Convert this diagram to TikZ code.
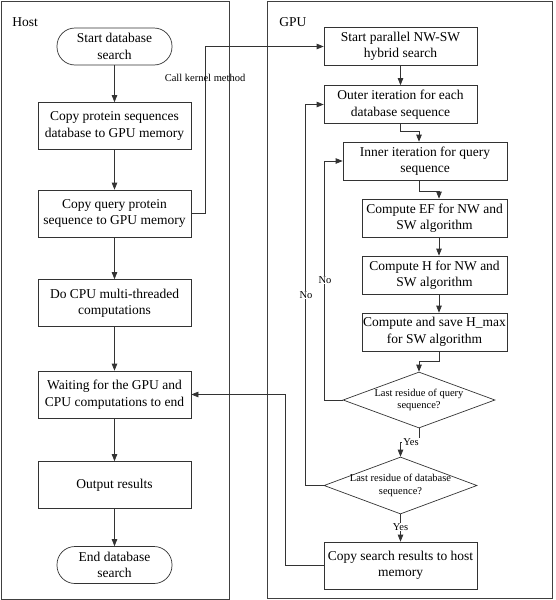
\documentclass[tikz,border=0pt]{standalone}
\usepackage{fontspec}
\setmainfont{Liberation Serif}
\usetikzlibrary{arrows.meta,shapes.geometric,calc}
\begin{document}
\begin{tikzpicture}[x=1pt,y=-1pt,
  line width=0.7pt, draw=black!80,
  box/.style={draw=black!80, rectangle, minimum width=153pt, minimum height=47pt, inner sep=0pt, align=center, font=\fontsize{13.5}{16.5}\selectfont},
  sbox/.style={box, minimum height=38pt},
  term/.style={box, minimum width=115pt, minimum height=37pt, rounded corners=18pt},
  dia/.style={draw=black!80, shape=diamond, inner sep=0pt, minimum width=152pt, minimum height=56pt},
  dtext/.style={align=center, inner sep=0pt, font=\fontsize{10.5}{12.7}\selectfont},
  lbl/.style={font=\fontsize{10.5}{12}\selectfont, inner sep=1pt},
  wlbl/.style={lbl, fill=white},
  arr/.style={draw=black!80, -{Triangle[length=7pt,width=5.5pt]}},
  panel/.style={draw=black!75, line width=0.9pt},
  title/.style={font=\fontsize{13.5}{16}\selectfont, anchor=west, inner sep=0pt}
]
\useasboundingbox (0,0) rectangle (555,600);
% panels
\draw[panel] (1,1) rectangle (229,599);
\draw[panel] (267,1) rectangle (552,598);
\node[title] (host) at (12,22) {Host};
\node[title] (gpu) at (279,22) {GPU};

% host column
\node[term] (s)  at (114.5,46.5) {Start database\\search};
\node[box]  (c1) at (114.5,126) {Copy protein sequences\\database to GPU memory};
\node[box]  (c2) at (114.5,213.5) {Copy query protein\\sequence to GPU memory};
\node[box]  (c3) at (114.5,303) {Do CPU multi-threaded\\computations};
\node[box]  (w)  at (114.5,394.5) {Waiting for the GPU and\\CPU computations to end};
\node[box]  (o)  at (114.5,485) {Output results};
\node[term] (e)  at (114.5,565) {End database\\search};

\draw[arr] (s) -- (c1);
\draw[arr] (c1) -- (c2);
\draw[arr] (c2) -- (c3);
\draw[arr] (c3) -- (w);
\draw[arr] (w) -- (o);
\draw[arr] (o) -- (e);

% gpu column
\node[sbox] (g1) at (400.5,46.5) {Start parallel NW-SW\\hybrid search};
\node[sbox] (g2) at (400.5,104.5) {Outer iteration for each\\database sequence};
\node[sbox, minimum width=164pt] (g3) at (425,161) {Inner iteration for query\\sequence};
\node[sbox, minimum width=145pt] (g4) at (434.5,218) {Compute EF for NW and\\SW algorithm};
\node[sbox, minimum width=145pt] (g5) at (434.5,275) {Compute H for NW and\\SW algorithm};
\node[sbox, minimum width=145pt] (g6) at (434.5,332) {Compute and save H\_max\\for SW algorithm};
\node[dia] (d1) at (419,400) {};
\node[dtext] (d1t) at (d1) {Last residue of query\\sequence?};
\node[dia, minimum width=153pt, minimum height=57pt] (d2) at (400.5,485.5) {};
\node[dtext] (d2t) at (d2) {Last residue of database\\sequence?};
\node[box] (g7) at (400.5,565.5) {Copy search results to host\\memory};

% kernel call
\coordinate (k) at (205,46.5);
\draw[arr] (c2.east) -| (k) -- (g1.west);
\node[lbl] (kl) at (205,78) {Call kernel method};

\draw[arr] (g1) -- (g2);
\draw[arr] (g2.south) -- ++(0,7) -| ([xshift=-6pt]g3.north);
\draw[arr] ([xshift=-6pt]g3.south) -- ++(0,11) -| ([xshift=4.5pt]g4.north);
\draw[arr] ([xshift=4.5pt]g4.south) -- ([xshift=4.5pt]g5.north);
\draw[arr] ([xshift=4.5pt]g5.south) -- ([xshift=4.5pt]g6.north);
\draw[arr] ([xshift=4.5pt]g6.south) -- ++(0,10) -| (d1.north);

% yes branches
\draw[arr] (d1.south) -- ++(0,14) -| (d2.north);
\node[wlbl] (y1) at (411,442) {Yes};
\draw[arr] (d2.south) -- (g7.north);
\node[wlbl] (y2) at (400.5,527) {Yes};

% no loops
\draw[arr] (d1.west) -- ++(-18,0) |- (g3.west);
\node[wlbl] (n1) at (325,280) {No};
\draw[arr] (d2.west) -- ++(-18,0) |- (g2.west);
\node[wlbl] (n2) at (306,295) {No};

% results back to host
\draw[arr] (g7.west) -- ++(-38,0) |- (w.east);
\end{tikzpicture}
\end{document}
